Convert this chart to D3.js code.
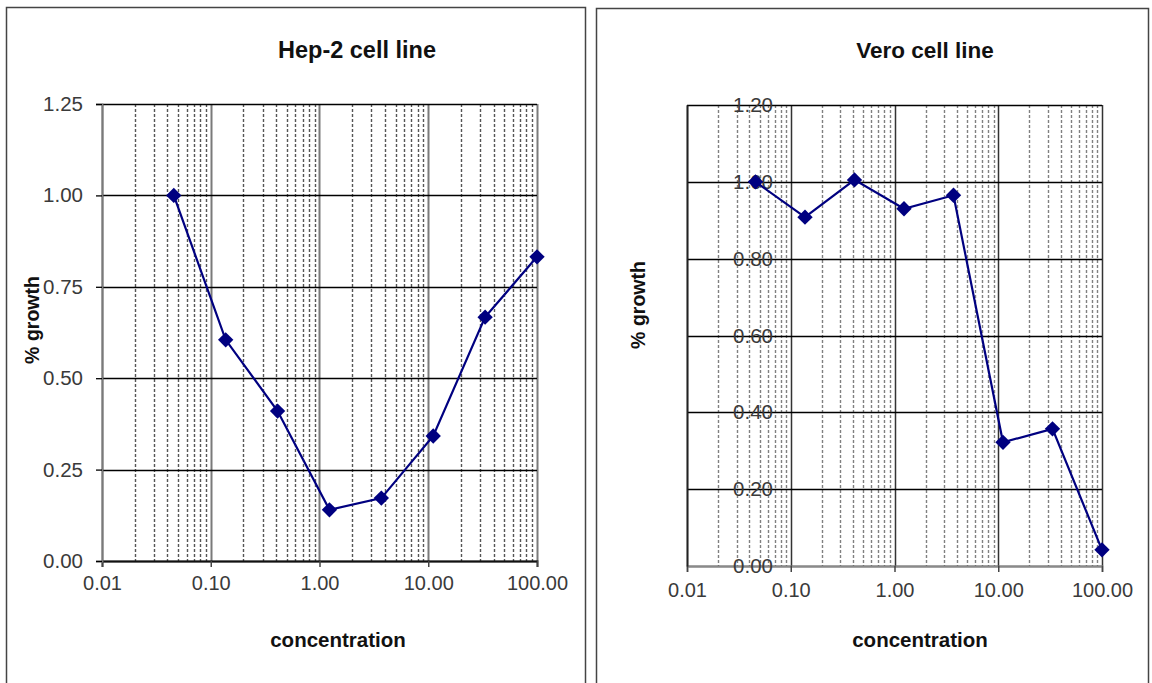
<!DOCTYPE html>
<html>
<head>
<meta charset="utf-8">
<script src="https://cdn.jsdelivr.net/npm/d3@7"></script>
<style>
  html, body { margin: 0; padding: 0; background: #fff; }
  svg { display: block; font-family: "Liberation Sans", Arial, sans-serif; }
</style>
</head>
<body>
<svg id="chart" width="1152" height="683"></svg>
<script>
// Serial three-fold dilution series (concentration), lowest first
const concentrations = [100 / 2187, 100 / 729, 100 / 243, 100 / 81, 100 / 27, 100 / 9, 100 / 3, 100];
const hepGrowth  = [1.00, 0.605, 0.41, 0.14, 0.172, 0.342, 0.667, 0.832];
const veroGrowth = [1.00, 0.908, 1.005, 0.93, 0.965, 0.322, 0.357, 0.042];
const xTickValues = [0.01, 0.1, 1, 10, 100];
const hepYTicks  = [0, 0.25, 0.5, 0.75, 1.0, 1.25];
const veroYTicks = [0, 0.2, 0.4, 0.6, 0.8, 1.0, 1.2];

const svg = d3.select("#chart");
const navy = "#000080";
const FONT = "Liberation Sans, Arial, sans-serif";

function drawPanel(cfg) {
  const g = svg.append("g");
  // panel frame
  g.append("rect")
    .attr("x", cfg.frame[0] + 0.5).attr("y", cfg.frame[1] + 0.5)
    .attr("width", cfg.frame[2]).attr("height", cfg.frame[3])
    .attr("fill", "#fff").attr("stroke", "#444").attr("stroke-width", 1.5);

  const x = d3.scaleLog().domain([0.01, 100]).range([cfg.left, cfg.right]);
  const y = d3.scaleLinear().domain([0, cfg.yMax]).range([cfg.bottom, cfg.top]);

  // minor log gridlines (2..9 within each decade)
  const minor = [];
  [0.01, 0.1, 1, 10].forEach(d => { for (let k = 2; k <= 9; k++) minor.push(d * k); });
  g.selectAll(".minor").data(minor).join("line")
    .attr("x1", d => Math.round(x(d)) + 0.5).attr("x2", d => Math.round(x(d)) + 0.5)
    .attr("y1", cfg.top).attr("y2", cfg.bottom)
    .attr("stroke", cfg.minorColor).attr("stroke-width", 1.4).attr("stroke-dasharray", "3,2");

  // major decade gridlines
  g.selectAll(".major").data(xTickValues).join("line")
    .attr("x1", d => Math.round(x(d)) + 0.5).attr("x2", d => Math.round(x(d)) + 0.5)
    .attr("y1", cfg.top).attr("y2", cfg.bottom)
    .attr("stroke", cfg.majorColor).attr("stroke-width", cfg.majorWidth);

  // horizontal gridlines
  g.selectAll(".hgrid").data(cfg.yTicks).join("line")
    .attr("x1", cfg.left).attr("x2", cfg.right)
    .attr("y1", d => Math.round(y(d)) + 0.5).attr("y2", d => Math.round(y(d)) + 0.5)
    .attr("stroke", "#000").attr("stroke-width", 1.3);

  // x axis
  const xAxis = d3.axisBottom(x).tickValues(xTickValues).tickSize(6).tickPadding(cfg.xPad)
    .tickFormat(d3.format(".2f"));
  const xa = g.append("g").attr("transform", `translate(0,${cfg.bottom})`).call(xAxis);
  xa.select(".domain").attr("stroke", cfg.xDomainColor).attr("stroke-width", 1.8);
  xa.selectAll(".tick line").attr("stroke", "#444").attr("stroke-width", 1.5);
  xa.selectAll("text").attr("font-size", 20).attr("fill", "#3a3a3a").attr("font-family", FONT);

  // y axis
  const yAxis = d3.axisLeft(y).tickValues(cfg.yTicks).tickSize(cfg.yTickSize)
    .tickPadding(cfg.yPad).tickFormat(d3.format(".2f"));
  const ya = g.append("g").attr("transform", `translate(${cfg.left},0)`).call(yAxis);
  ya.select(".domain").attr("stroke", cfg.yDomainColor).attr("stroke-width", 1.8);
  ya.selectAll(".tick line").attr("stroke", "#000").attr("stroke-width", 1.3);
  ya.selectAll("text").attr("font-size", 20.5).attr("fill", "#3a3a3a").attr("font-family", FONT);

  // series line and diamond markers
  const pts = concentrations.map((c, i) => [c, cfg.values[i]]);
  g.append("path").datum(pts)
    .attr("d", d3.line().x(d => x(d[0])).y(d => y(d[1])))
    .attr("fill", "none").attr("stroke", navy).attr("stroke-width", 2.2);
  g.selectAll(".pt").data(pts).join("path")
    .attr("transform", d => `translate(${x(d[0])},${y(d[1])})`)
    .attr("d", d3.symbol(d3.symbolDiamond2, 150)())
    .attr("fill", navy);

  // titles
  g.append("text").attr("x", cfg.titleX).attr("y", 58).attr("text-anchor", "middle")
    .attr("font-size", cfg.titleSize).attr("font-weight", "bold").attr("fill", "#111").text(cfg.title);
  g.append("text").attr("x", cfg.xLabelX).attr("y", 647).attr("text-anchor", "middle")
    .attr("font-size", 20.5).attr("font-weight", "bold").attr("fill", "#111").text("concentration");
  g.append("text")
    .attr("transform", `translate(${cfg.yLabelX},${cfg.yLabelY}) rotate(-90)`)
    .attr("text-anchor", "middle").attr("font-size", 19.5).attr("font-weight", "bold")
    .attr("fill", "#111").text("% growth");
}

drawPanel({
  frame: [6, 7, 579, 690],
  left: 102, right: 537, top: 104, bottom: 561, yMax: 1.25,
  yTicks: hepYTicks, values: hepGrowth,
  minorColor: "#555", majorColor: "#7a7a7a", majorWidth: 2,
  xDomainColor: "#111", yDomainColor: "#7a7a7a",
  yTickSize: 6, yPad: 13, xPad: 9,
  title: "Hep-2 cell line", titleX: 357, titleSize: 23.5,
  xLabelX: 338, yLabelX: 39, yLabelY: 320
});

drawPanel({
  frame: [596, 8, 552, 690],
  left: 687, right: 1102, top: 105, bottom: 566, yMax: 1.2,
  yTicks: veroYTicks, values: veroGrowth,
  minorColor: "#808080", majorColor: "#333", majorWidth: 1.5,
  xDomainColor: "#8a8a8a", yDomainColor: "#222",
  yTickSize: 0, yPad: -86, xPad: 11,
  title: "Vero cell line", titleX: 925, titleSize: 22.5,
  xLabelX: 920, yLabelX: 645, yLabelY: 305
});
</script>
</body>
</html>
